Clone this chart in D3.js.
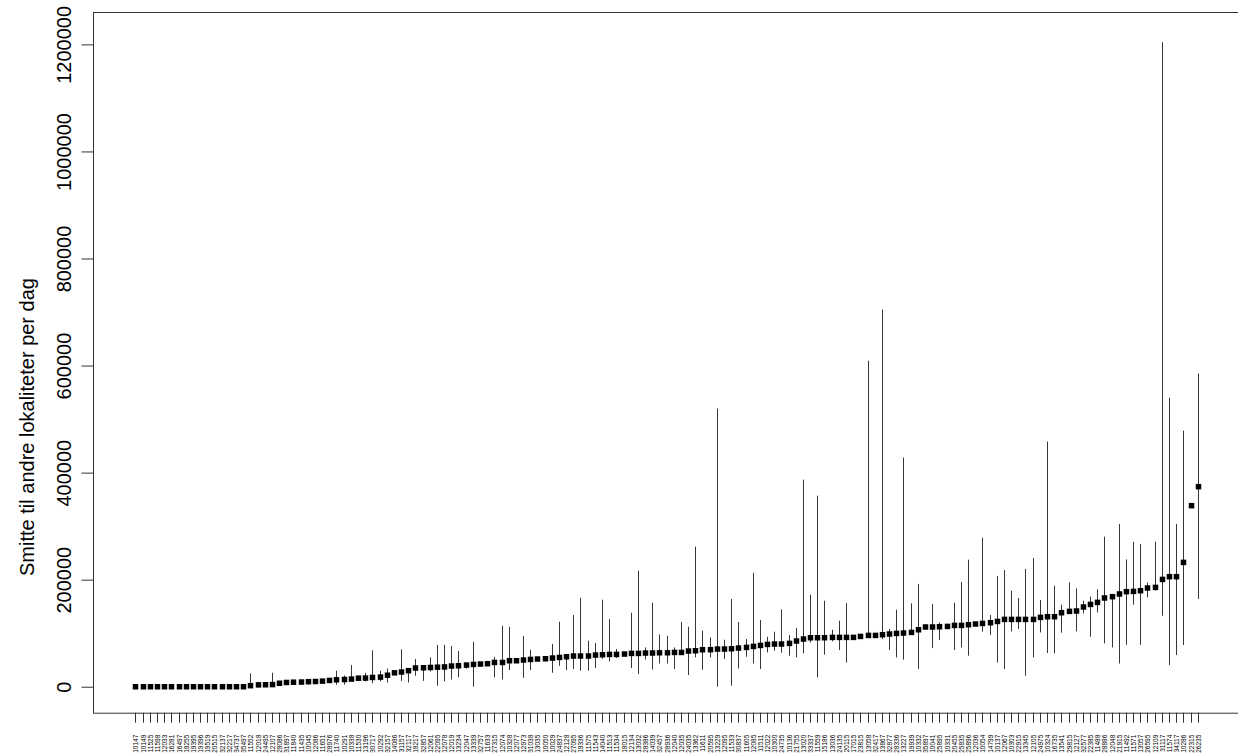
<!DOCTYPE html>
<html>
  <head>
    <meta charset="utf-8">
    <script type="text/javascript" src="https://cdn.jsdelivr.net/npm/d3@7"></script>
    <style type="text/css">
      body {
        margin: 0;
        background: #ffffff;
      }
      text {
        font-family: "Liberation Sans", Arial, sans-serif;
        fill: #000000;
      }
    </style>
  </head>
  <body>
    <script type="text/javascript">

      // lokalitetsnummer, sortert etter gjennomsnitt
      var lokaliteter = [
        "10147","10149","11525","11598","12033","16281","16497","18255","19395","19396",
        "19519","20515","32137","32217","34737","35497","11552","12018","24495","12107",
        "28086","31897","11840","11435","10045","12086","11651","28976","11740","10291",
        "10338","11530","13196","30717","10292","32157","14086","31157","32117","18217",
        "32857","12061","22095","12078","12019","13234","12047","13339","32757","11633",
        "27315","12074","10328","12077","12973","31038","13035","10050","10029","24837",
        "12128","27095","19336","11575","11543","14040","11513","11534","18015","12134",
        "13032","28386","14039","32457","28936","12040","12035","24035","13362","11611",
        "20595","13229","12095","11533","30837","11605","12085","11511","12022","10300",
        "24735","10136","21755","13020","33337","11559","15186","13036","24135","20115",
        "17015","23815","13058","32417","13867","32877","28336","13227","19939","10332",
        "35897","10041","25895","10331","20455","25835","25896","12036","10054","14799",
        "10137","12067","10303","22915","13345","12105","24975","10324","16735","13541",
        "29815","12127","32577","22385","11488","28886","12048","21915","11492","11571",
        "13057","26595","12109","31117","11574","34117","10286","22315","26235"
      ];

      // gjennomsnittlig smitte per dag
      var snitt = [
        0,0,0,0,0,0,0,0,0,0,
        0,0,0,0,0,0,2000,3500,3700,4000,
        6500,8000,8500,8800,9500,9800,10500,11800,13000,13500,
        14300,16000,16200,17400,18000,21500,26000,27500,30000,35000,
        35500,36000,36500,37000,38700,39200,40500,41700,42400,43000,
        45400,45400,48600,48600,49900,51000,51800,52300,53600,54800,
        56000,57400,57400,57400,59200,59800,60400,60400,61100,62300,
        62300,63000,63000,63500,63500,64100,64100,66700,67300,69200,
        69200,70400,70400,71000,72300,73500,75300,77200,79100,79800,
        79800,81000,85400,89100,91600,91600,91600,92200,92200,92200,
        92200,94000,95900,95900,97200,98500,99600,100400,101500,106500,
        111600,111600,112100,112700,114600,114600,115900,117200,118300,119600,
        122000,125800,125800,125800,125800,125800,129600,130800,130800,138300,
        140800,141500,149000,153800,157600,165800,168200,173300,177600,178100,
        179400,184500,185600,200500,205600,205600,232300,338300,373800
      ];

      // nedre grense
      var nedre = [
        0,0,0,0,0,0,0,0,0,0,
        0,0,0,0,0,0,2000,3500,3700,4000,
        6500,3000,8500,3500,4000,9800,10500,11800,3700,4000,
        14300,16000,10000,6500,10000,8000,26000,11000,8000,20500,
        11000,28600,2000,10000,13600,17400,33600,0,42400,43000,
        17400,13700,31200,48600,16800,31200,51800,52300,26200,39200,
        31200,33000,30000,30000,35000,52300,47300,54000,58000,35000,
        23700,51000,32300,43500,43500,33000,62000,21900,54800,31800,
        54800,0,51800,1900,34200,56000,43500,33000,64100,67300,
        63500,58000,54800,62300,82800,17400,59800,85000,68600,45400,
        92200,94000,95900,95900,89100,68600,54800,50500,99000,33000,
        111600,72300,87300,112700,68600,73500,58000,117200,102800,96600,
        45400,33000,103400,108000,20600,54800,101500,63000,62300,101000,
        138000,103400,137000,93400,138900,81000,73500,43500,78500,153300,
        78500,166900,180000,132700,40500,59200,78000,338300,164000
      ];

      // øvre grense
      var ovre = [
        0,0,0,0,0,0,0,0,0,0,
        0,0,0,0,0,0,25000,8500,3700,26000,
        6500,11000,8500,11500,14000,9800,10500,11800,30000,21000,
        40500,16000,26000,68000,30000,34000,26000,70000,34000,52000,
        35500,55000,78000,78500,76000,67000,40500,84000,42400,43000,
        56000,114000,112000,48600,94800,69000,51800,52300,79800,121500,
        58000,134000,166000,86000,81600,162600,126500,70400,64800,138300,
        216800,73500,157000,97700,95300,73500,121000,112000,261700,104700,
        92000,519600,87800,164000,121000,89000,213000,124700,93400,102800,
        144500,96600,110000,386900,172000,357000,160700,106500,123400,156400,
        92200,94000,609000,95900,704600,107800,143900,428000,155700,192000,
        111600,154600,120200,112700,157000,195700,237400,117200,278500,134000,
        206900,218100,179400,165800,220000,240500,162000,458000,188800,153300,
        195000,183700,160700,168200,181900,280400,168200,304100,237900,271000,
        266700,195000,271000,1204000,540000,304100,478500,338300,585000
      ];

      // y-akse verdier og grenser (ylim som i R-plottet)
      var yTicks = [0, 200000, 400000, 600000, 800000, 1000000, 1200000];
      var yLim = [0, 1212000];
      var yTittel = "Smitte til andre lokaliteter per dag";

      var width = 1238;
      var height = 755;

      // plottområdet (R-stil, høyre kant utenfor bildet)
      var plot = {left: 93, right: 1240.2, top: 12, bottom: 712.7};

      var svg = d3.select("body")
                  .append("svg")
                  .attr("width", width)
                  .attr("height", height);

      // x-skala med 4% ekstra plass på hver side, som i R
      var ext = 0.04 * (lokaliteter.length - 1);
      var xScale = d3.scalePoint()
                     .domain(lokaliteter)
                     .range([plot.left, plot.right])
                     .padding(ext);

      // y-skala, også 4% ekstra
      var yPad = (yLim[1] - yLim[0]) * 0.04;
      var yScale = d3.scaleLinear()
                     .domain([yLim[0] - yPad, yLim[1] + yPad])
                     .range([plot.bottom, plot.top]);

      // feilstolper
      svg.append("g")
         .selectAll("line")
         .data(lokaliteter)
         .enter()
         .filter(function(d, i){ return ovre[i] > nedre[i]; })
         .append("line")
         .attr("x1", function(d){ return Math.round(xScale(d)) + 0.5; })
         .attr("x2", function(d){ return Math.round(xScale(d)) + 0.5; })
         .attr("y1", function(d){ return yScale(nedre[lokaliteter.indexOf(d)]); })
         .attr("y2", function(d){ return yScale(ovre[lokaliteter.indexOf(d)]); })
         .attr("stroke", "#363636")
         .attr("stroke-width", 1);

      // punktene (fylte firkanter)
      var sq = 5.5;
      svg.append("g")
         .selectAll("rect")
         .data(lokaliteter)
         .enter()
         .append("rect")
         .attr("x", function(d){ return Math.round(xScale(d)) + 0.5 - sq / 2; })
         .attr("y", function(d, i){ return yScale(snitt[i]) - sq / 2; })
         .attr("width", sq)
         .attr("height", sq)
         .attr("fill", "#000000");

      // ramme rundt plottet
      svg.append("rect")
         .attr("x", plot.left + 0.5)
         .attr("y", plot.top + 0.5)
         .attr("width", plot.right - plot.left)
         .attr("height", plot.bottom - plot.top)
         .attr("fill", "none")
         .attr("stroke", "#333333")
         .attr("stroke-width", 1);

      // y-aksen
      var yAxis = d3.axisLeft(yScale)
                    .tickValues(yTicks)
                    .tickSize(12)
                    .tickFormat(d3.format("d"));
      var gy = svg.append("g")
                  .attr("transform", "translate(" + (plot.left + 0.5) + ",0)")
                  .call(yAxis);
      gy.select(".domain").remove();
      gy.selectAll(".tick line").attr("stroke", "#333333");
      gy.selectAll(".tick text")
        .attr("x", null)
        .attr("dy", null)
        .attr("transform", "translate(-30,0) rotate(-90)")
        .attr("text-anchor", "middle")
        .attr("dominant-baseline", "central")
        .style("font-size", "20px")
        .style("font-family", "'Liberation Sans', Arial, sans-serif")
        .attr("fill", "#000000");

      // x-aksen med små, loddrette etiketter
      var xAxis = d3.axisBottom(xScale)
                    .tickSize(10);
      var gx = svg.append("g")
                  .attr("transform", "translate(0," + plot.bottom + ")")
                  .call(xAxis);
      gx.select(".domain").remove();
      gx.selectAll(".tick")
        .attr("transform", function(d){
          return "translate(" + (Math.round(xScale(d)) + 0.5) + ",0)";
        });
      gx.selectAll(".tick line").attr("stroke", "#333333");
      gx.selectAll(".tick text")
        .attr("y", null)
        .attr("dy", null)
        .attr("transform", "translate(0,22) rotate(-90)")
        .attr("text-anchor", "end")
        .attr("dominant-baseline", "central")
        .style("font-size", "6.5px")
        .style("font-family", "'Liberation Sans', Arial, sans-serif")
        .attr("fill", "#000000");

      // y-aksetittel
      svg.append("text")
         .attr("transform", "translate(27," + 427 + ") rotate(-90)")
         .attr("text-anchor", "middle")
         .attr("dominant-baseline", "central")
         .style("font-size", "20px")
         .text(yTittel);

    </script>
  </body>
</html>
